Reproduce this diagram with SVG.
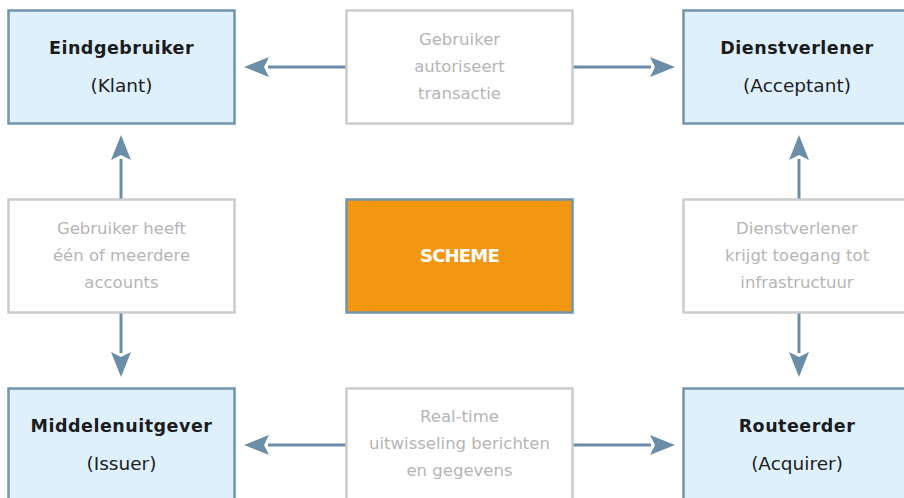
<svg xmlns="http://www.w3.org/2000/svg" width="904" height="498" viewBox="0 0 904 498">
<style>
.actor{fill:#dff0fd;stroke:#7394ab;stroke-width:2.5}
.lbl{fill:#ffffff;stroke:#cccccc;stroke-width:2.5}
.scheme{fill:#f39712;stroke:#7394ab;stroke-width:2.5}
.t{font-family:"DejaVu Sans","Liberation Sans",sans-serif;text-anchor:middle}
.title{font-size:17.5px;font-weight:bold;fill:#1c1c1c;letter-spacing:0.5px}
.sub{font-size:18.5px;fill:#1c1c1c}
.g{font-size:16.5px;fill:#b5b5b5}
.w{font-size:18px;font-weight:bold;fill:#ffffff;letter-spacing:-0.8px}
.c{stroke:#6a8ea7;stroke-width:3;fill:none}
</style>
<defs>
<marker id="ah" markerUnits="userSpaceOnUse" markerWidth="26" markerHeight="22" refX="1" refY="11" orient="auto" viewBox="0 0 26 22">
<path d="M0,1 L25,11 L0,21 L5,11 Z" fill="#6a8ea7"/>
</marker>
</defs>
<rect width="904" height="498" fill="#ffffff"/>
<g id="connectors">
<line class="c" x1="346" y1="67" x2="268" y2="67" marker-end="url(#ah)"/>
<line class="c" x1="573" y1="67" x2="651" y2="67" marker-end="url(#ah)"/>
<line class="c" x1="346" y1="445" x2="268" y2="445" marker-end="url(#ah)"/>
<line class="c" x1="573" y1="445" x2="651" y2="445" marker-end="url(#ah)"/>
<line class="c" x1="121" y1="199" x2="121" y2="159" marker-end="url(#ah)"/>
<line class="c" x1="121" y1="313" x2="121" y2="353" marker-end="url(#ah)"/>
<line class="c" x1="799" y1="199" x2="799" y2="159" marker-end="url(#ah)"/>
<line class="c" x1="799" y1="313" x2="799" y2="353" marker-end="url(#ah)"/>
</g>
<g id="eindgebruiker">
<rect class="actor" x="8.5" y="10.5" width="226" height="113"/>
<text class="t title" x="121.5" y="54">Eindgebruiker</text>
<text class="t sub" x="121.5" y="92">(Klant)</text>
</g>
<g id="label-autoriseert">
<rect class="lbl" x="346.5" y="10.5" width="226" height="113"/>
<text class="t g" x="459.5" y="45">Gebruiker</text>
<text class="t g" x="459.5" y="72">autoriseert</text>
<text class="t g" x="459.5" y="99">transactie</text>
</g>
<g id="dienstverlener">
<rect class="actor" x="683.5" y="10.5" width="232" height="113"/>
<text class="t title" x="797" y="54">Dienstverlener</text>
<text class="t sub" x="797" y="92">(Acceptant)</text>
</g>
<g id="label-accounts">
<rect class="lbl" x="8.5" y="199.5" width="226" height="113"/>
<text class="t g" x="121.5" y="234">Gebruiker heeft</text>
<text class="t g" x="121.5" y="261">één of meerdere</text>
<text class="t g" x="121.5" y="288">accounts</text>
</g>
<g id="scheme">
<rect class="scheme" x="346.5" y="199.5" width="226" height="113"/>
<text class="t w" x="459.5" y="262">SCHEME</text>
</g>
<g id="label-infrastructuur">
<rect class="lbl" x="683.5" y="199.5" width="232" height="113"/>
<text class="t g" x="797" y="234">Dienstverlener</text>
<text class="t g" x="797" y="261">krijgt toegang tot</text>
<text class="t g" x="797" y="288">infrastructuur</text>
</g>
<g id="middelenuitgever">
<rect class="actor" x="8.5" y="388.5" width="226" height="113"/>
<text class="t title" x="121.5" y="432">Middelenuitgever</text>
<text class="t sub" x="121.5" y="470">(Issuer)</text>
</g>
<g id="label-realtime">
<rect class="lbl" x="346.5" y="388.5" width="226" height="113"/>
<text class="t g" x="459.5" y="422">Real-time</text>
<text class="t g" x="459.5" y="449">uitwisseling berichten</text>
<text class="t g" x="459.5" y="476">en gegevens</text>
</g>
<g id="routeerder">
<rect class="actor" x="683.5" y="388.5" width="232" height="113"/>
<text class="t title" x="797" y="432">Routeerder</text>
<text class="t sub" x="797" y="470">(Acquirer)</text>
</g>
</svg>
